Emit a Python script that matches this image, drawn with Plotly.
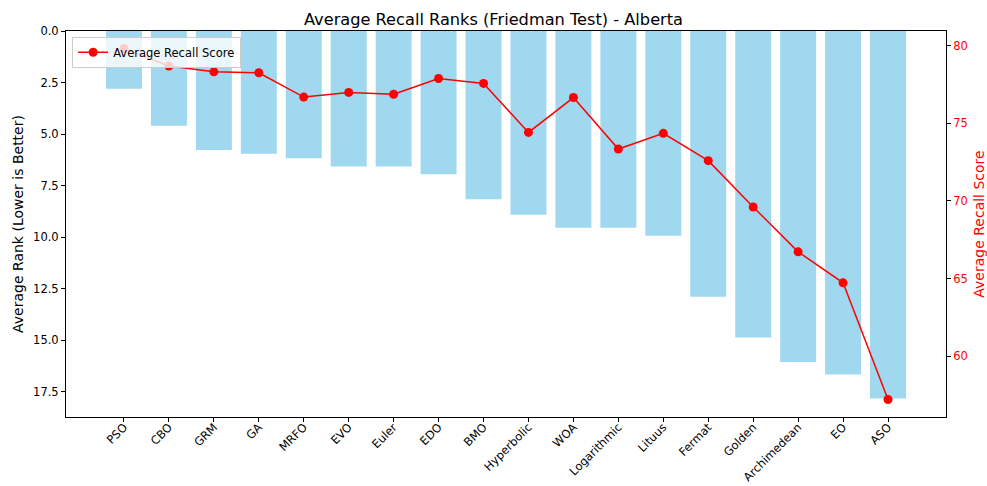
import plotly.graph_objects as go

algorithms = ["PSO", "CBO", "GRM", "GA", "MRFO", "EVO", "Euler", "EDO", "BMO",
              "Hyperbolic", "WOA", "Logarithmic", "Lituus", "Fermat", "Golden",
              "Archimedean", "EO", "ASO"]
avg_rank = [2.8, 4.6, 5.77, 5.96, 6.17, 6.58, 6.58, 6.95, 8.16,
            8.92, 9.55, 9.55, 9.94, 12.9, 14.88, 16.06, 16.67, 17.84]
avg_recall = [79.83, 78.70, 78.33, 78.27, 76.70, 77.0, 76.88, 77.9, 77.58,
              74.42, 76.67, 73.35, 74.36, 72.6, 69.61, 66.72, 64.72, 57.2]

rank_ticks = [0, 2.5, 5, 7.5, 10, 12.5, 15, 17.5]
recall_ticks = [60, 65, 70, 75, 80]

FONT = "DejaVu Sans"

fig = go.Figure()
fig.add_trace(go.Bar(
    x=algorithms, y=avg_rank, name="Average Rank",
    marker=dict(color="skyblue", opacity=0.8, line=dict(width=0)),
    width=0.8, showlegend=False, yaxis="y",
))
fig.add_trace(go.Scatter(
    x=algorithms, y=avg_recall, name="Average Recall Score",
    mode="lines+markers", line=dict(color="red", width=1.5),
    marker=dict(color="red", size=9), yaxis="y2",
))

rmin, rmax = min(avg_rank), max(avg_rank)
smin, smax = min(avg_recall), max(avg_recall)
span = smax - smin

fig.update_layout(
    width=987, height=486,
    margin=dict(l=66, r=41, t=31, b=69, autoexpand=False),
    paper_bgcolor="white", plot_bgcolor="white",
    font=dict(family=FONT, size=12, color="black"),
    title=dict(text="Average Recall Ranks (Friedman Test) - Alberta",
               x=0.5, xanchor="center", yref="container", y=(486 - 25) / 486,
               yanchor="bottom", font=dict(size=16.2, family=FONT)),
    xaxis=dict(
        type="category", range=[-1.29, 18.29], automargin=False,
        tickangle=-45, ticks="outside", ticklen=4, tickcolor="black",
        ticklabelstandoff=-6,
        showline=True, linecolor="black", linewidth=1, mirror=True,
        showgrid=False, tickfont=dict(size=11.5),
    ),
    yaxis=dict(
        range=[rmax * 1.05, 0], tickvals=rank_ticks, tickformat=".1f",
        automargin=False,
        ticks="outside", ticklen=4, tickcolor="black",
        showline=True, linecolor="black", linewidth=1,
        showgrid=False, zeroline=False, tickfont=dict(size=11.5),
        title=dict(text="Average Rank (Lower is Better)", font=dict(size=14), standoff=6),
    ),
    yaxis2=dict(
        overlaying="y", side="right", automargin=False,
        range=[smin - 0.05 * span, smax + 0.05 * span], tickvals=recall_ticks,
        ticks="outside", ticklen=4, tickcolor="black",
        showline=True, linecolor="black", linewidth=1,
        showgrid=False, zeroline=False,
        tickfont=dict(size=11.5, color="red"),
        title=dict(text="Average Recall Score", font=dict(size=14, color="red"), standoff=12),
    ),
    legend=dict(x=0.007, y=0.985, xanchor="left", yanchor="top",
                bgcolor="rgba(255,255,255,0.8)", bordercolor="#cccccc", borderwidth=1,
                font=dict(size=11.5), itemwidth=30),
    bargap=0.2,
)

fig.write_html("out.html", config={"displayModeBar": False},
               post_script="document.body.style.margin='0';document.body.style.overflow='hidden';")
